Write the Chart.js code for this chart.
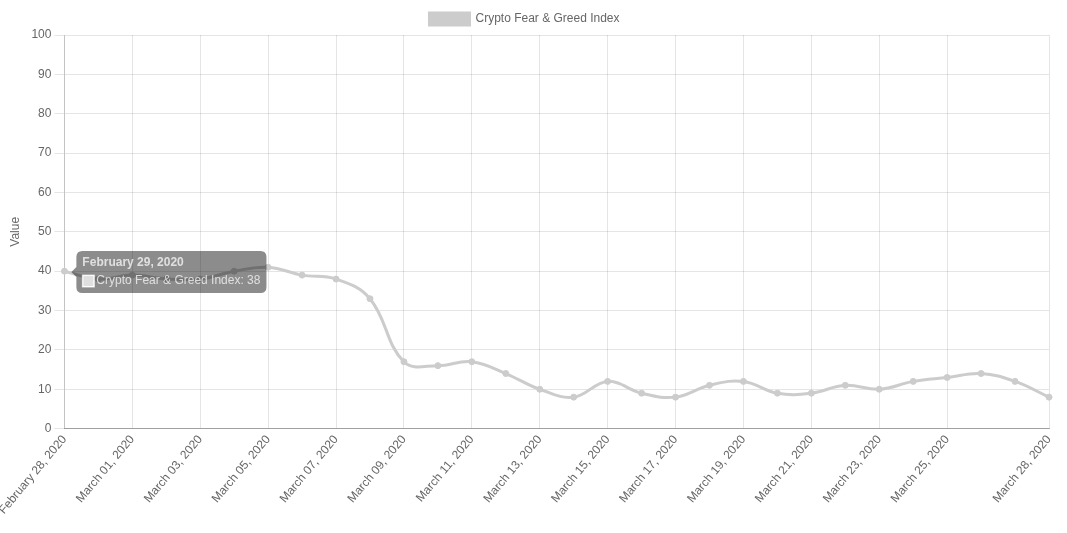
<!DOCTYPE html>
<html>
<head>
<meta charset="utf-8">
<script src="https://cdn.jsdelivr.net/npm/chart.js@4/dist/chart.umd.min.js"></script>
<style>
  html, body { margin: 0; padding: 0; background: #ffffff; }
  #wrap { width: 1067px; height: 533px; }
</style>
</head>
<body>
<div id="wrap"><canvas id="c" width="1067" height="533"></canvas></div>
<script>
const categories = [
  "February 28, 2020", "February 29, 2020", "March 01, 2020", "March 02, 2020",
  "March 03, 2020", "March 04, 2020", "March 05, 2020", "March 06, 2020",
  "March 07, 2020", "March 08, 2020", "March 09, 2020", "March 10, 2020",
  "March 11, 2020", "March 12, 2020", "March 13, 2020", "March 14, 2020",
  "March 15, 2020", "March 16, 2020", "March 17, 2020", "March 18, 2020",
  "March 19, 2020", "March 20, 2020", "March 21, 2020", "March 22, 2020",
  "March 23, 2020", "March 24, 2020", "March 25, 2020", "March 26, 2020",
  "March 27, 2020", "March 28, 2020"
];
const tooltipTitles = categories.map(s => s.replace(/ 0(\d),/, " $1,"));
const fearGreedValues = [
  40, 38, 39, 38, 38, 40, 41, 39, 38, 33,
  17, 16, 17, 14, 10, 8, 12, 9, 8, 11,
  12, 9, 9, 11, 10, 12, 13, 14, 12, 8
];
const seriesName = "Crypto Fear & Greed Index";
const yTitle = "Value";

const n = categories.length;
function tickShown(i) {
  return (i % 2 === 0 && i + 2 < n) || i === n - 1;
}

Chart.defaults.font.family = "'Liberation Sans', Arial, Helvetica, sans-serif";
Chart.defaults.font.size = 12;
Chart.defaults.color = "#666";

Chart.Tooltip.positioners.shifted = function (elements, eventPosition) {
  const p = Chart.Tooltip.positioners.average.call(this, elements, eventPosition);
  if (!p) return false;
  return { x: p.x - 29, y: p.y - 7 };
};

const chart = new Chart(document.getElementById("c"), {
  type: "line",
  data: {
    labels: categories,
    datasets: [{
      label: seriesName,
      data: fearGreedValues,
      borderColor: "#cccccc",
      backgroundColor: "#cccccc",
      pointBackgroundColor: "#cccccc",
      pointBorderColor: "#cccccc",
      borderWidth: 3,
      pointRadius: 3,
      pointBorderWidth: 1,
      tension: 0.4,
      fill: false
    }]
  },
  options: {
    responsive: false,
    animation: false,
    layout: { padding: { left: 0, right: 18, top: 3, bottom: 12 } },
    plugins: {
      legend: {
        position: "top",
        labels: { boxWidth: 40, boxHeight: 12, padding: 10, color: "#666" }
      },
      tooltip: {
        enabled: true,
        position: "shifted",
        xAlign: "left",
        yAlign: "center",
        backgroundColor: "rgba(0,0,0,0.45)",
        titleColor: "rgba(255,255,255,0.72)",
        bodyColor: "rgba(255,255,255,0.72)",
        titleFont: { weight: "bold", size: 12, lineHeight: 1 },
        bodyFont: { size: 12, lineHeight: 1 },
        padding: 6,
        caretSize: 5,
        cornerRadius: 6,
        titleMarginBottom: 6,
        displayColors: true,
        boxPadding: 0,
        callbacks: {
          title: (items) => tooltipTitles[items[0].dataIndex],
          labelColor: () => ({ borderColor: "rgba(255,255,255,0.6)", backgroundColor: "rgba(220,220,220,0.9)" })
        }
      }
    },
    scales: {
      x: {
        type: "category",
        afterFit: (scale) => { scale.paddingLeft = 0; },
        ticks: {
          autoSkip: false,
          maxRotation: 50,
          minRotation: 50,
          padding: 4,
          color: "#666",
          callback: function (value, index) { return tickShown(index) ? categories[index] : null; }
        },
        grid: {
          drawTicks: false,
          color: "rgba(0,0,0,0.1)"
        },
        border: { color: "rgba(0,0,0,0.3)" }
      },
      y: {
        min: 0,
        max: 100,
        ticks: { stepSize: 10, color: "#666", padding: 3 },
        title: { display: true, text: yTitle, color: "#666", font: { size: 12 }, padding: { top: 8, bottom: 6 } },
        grid: {
          color: "rgba(0,0,0,0.1)",
          tickLength: 10,
          drawTicks: true
        },
        border: { color: "rgba(0,0,0,0.15)" }
      }
    }
  }
});

const meta = chart.getDatasetMeta(0);
const el = meta.data[1];
chart.tooltip.setActiveElements([{ datasetIndex: 0, index: 1 }], { x: el.x, y: el.y });
chart.update();
</script>
</body>
</html>
